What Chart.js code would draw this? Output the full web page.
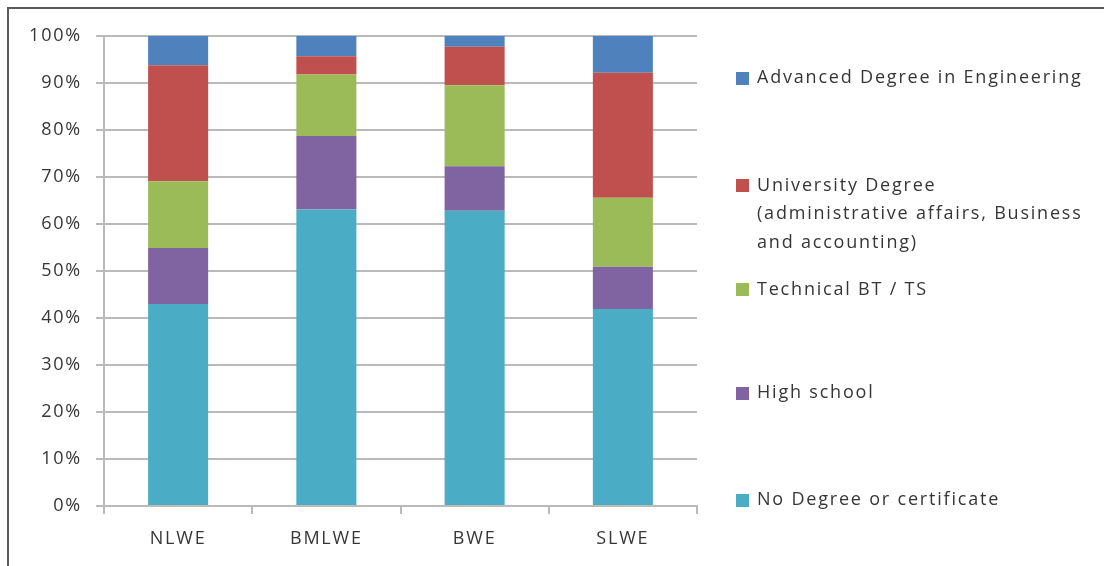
<!DOCTYPE html>
<html>
<head>
<meta charset="utf-8">
<script src="https://cdn.jsdelivr.net/npm/chart.js@4.4.1/dist/chart.umd.min.js"></script>
<style>
  html, body { margin: 0; padding: 0; background: #ffffff; }
  #wrap { position: relative; width: 1104px; height: 566px; overflow: hidden; }
  #frame {
    position: absolute; left: 7px; top: 7px; width: 1110px; height: 570px;
    border-top: 2px solid #5a5a5a; border-left: 2px solid #5a5a5a;
    box-sizing: border-box; pointer-events: none;
  }
  canvas { position: absolute; left: 0; top: 0; }
</style>
</head>
<body>
<div id="wrap">
  <canvas id="chart" width="1104" height="566"></canvas>
  <div id="frame"></div>
</div>
<script>
// Workforce categories on the x axis
const categories = ['NLWE', 'BMLWE', 'BWE', 'SLWE'];

// Share of each education level (%), stacked bottom to top
const noDegree   = [43.0, 63.1, 62.8, 41.9];
const highSchool = [11.9, 15.6,  9.5,  9.0];
const technical  = [14.2, 13.1, 17.2, 14.7];
const university = [24.7,  3.9,  8.2, 26.6];
const advanced   = [ 6.2,  4.3,  2.3,  7.8];

// Series names as shown in the legend (one entry per line)
const seriesNames = [
  ['No Degree or certificate'],
  ['High school'],
  ['Technical BT / TS'],
  ['University Degree', '(administrative affairs, Business', 'and accounting)'],
  ['Advanced Degree in Engineering']
];

// Y axis tick values (%)
const yTicks = [0, 10, 20, 30, 40, 50, 60, 70, 80, 90, 100];

const seriesValues = [noDegree, highSchool, technical, university, advanced];
const seriesColors = ['#4BACC6', '#8064A2', '#9BBB59', '#C0504D', '#4F81BD'];

const FONT = { family: '"Open Sans", "Liberation Sans", sans-serif', size: 18 };
const TEXT_COLOR = '#363636';
const GRID_COLOR = '#bababa';
const LETTER_SPACING = '1.8px';

// Letter spacing for all canvas text
const spacingPlugin = {
  id: 'spacing',
  beforeLayout(chart) { chart.ctx.letterSpacing = LETTER_SPACING; },
  beforeDraw(chart) { chart.ctx.letterSpacing = LETTER_SPACING; }
};

// Legend on the right, top entry = last dataset; centre y of each entry's first line
const legendPlugin = {
  id: 'sideLegend',
  afterDraw(chart) {
    const ctx = chart.ctx;
    const rowsY = [500, 393, 289.5, 185.5, 78];
    const lineGap = 28.7;
    const boxX = 736, boxSize = 13, textX = 757;
    ctx.save();
    ctx.letterSpacing = LETTER_SPACING;
    ctx.font = FONT.size + 'px ' + FONT.family;
    ctx.textBaseline = 'middle';
    ctx.textAlign = 'left';
    chart.data.datasets.forEach((ds, i) => {
      const y = rowsY[i];
      ctx.fillStyle = ds.backgroundColor;
      ctx.fillRect(boxX, Math.round(y - boxSize / 2), boxSize, boxSize);
      ctx.fillStyle = TEXT_COLOR;
      seriesNames[i].forEach((line, k) => {
        ctx.fillText(line, textX, y + k * lineGap);
      });
    });
    ctx.restore();
  }
};

new Chart(document.getElementById('chart'), {
  type: 'bar',
  data: {
    labels: categories,
    datasets: seriesValues.map((vals, i) => ({
      label: seriesNames[i].join(' '),
      data: vals,
      backgroundColor: seriesColors[i],
      borderWidth: 0,
      categoryPercentage: 1.0,
      barPercentage: 0.405
    }))
  },
  options: {
    responsive: false,
    animation: false,
    devicePixelRatio: 1,
    layout: { padding: { top: 36, right: 407, left: 0, bottom: 0 } },
    plugins: {
      legend: { display: false },
      tooltip: { enabled: false }
    },
    scales: {
      x: {
        stacked: true,
        afterFit(scale) { scale.height = 60; },
        grid: {
          display: true,
          offset: true,
          drawOnChartArea: false,
          drawTicks: true,
          tickLength: 8,
          color: GRID_COLOR,
          lineWidth: 2
        },
        border: { display: true, color: GRID_COLOR, width: 2 },
        ticks: { color: TEXT_COLOR, font: FONT, padding: 14, maxRotation: 0 }
      },
      y: {
        stacked: true,
        min: 0,
        max: 100,
        afterFit(scale) { scale.width = 104; },
        afterBuildTicks(scale) { scale.ticks = yTicks.map(v => ({ value: v })); },
        grid: {
          color: GRID_COLOR,
          lineWidth: 2,
          drawTicks: true,
          tickLength: 8
        },
        border: { display: true, color: GRID_COLOR, width: 2 },
        ticks: {
          color: TEXT_COLOR,
          font: FONT,
          padding: 14,
          callback: v => v + '%'
        }
      }
    }
  },
  plugins: [spacingPlugin, legendPlugin]
});
</script>
</body>
</html>
